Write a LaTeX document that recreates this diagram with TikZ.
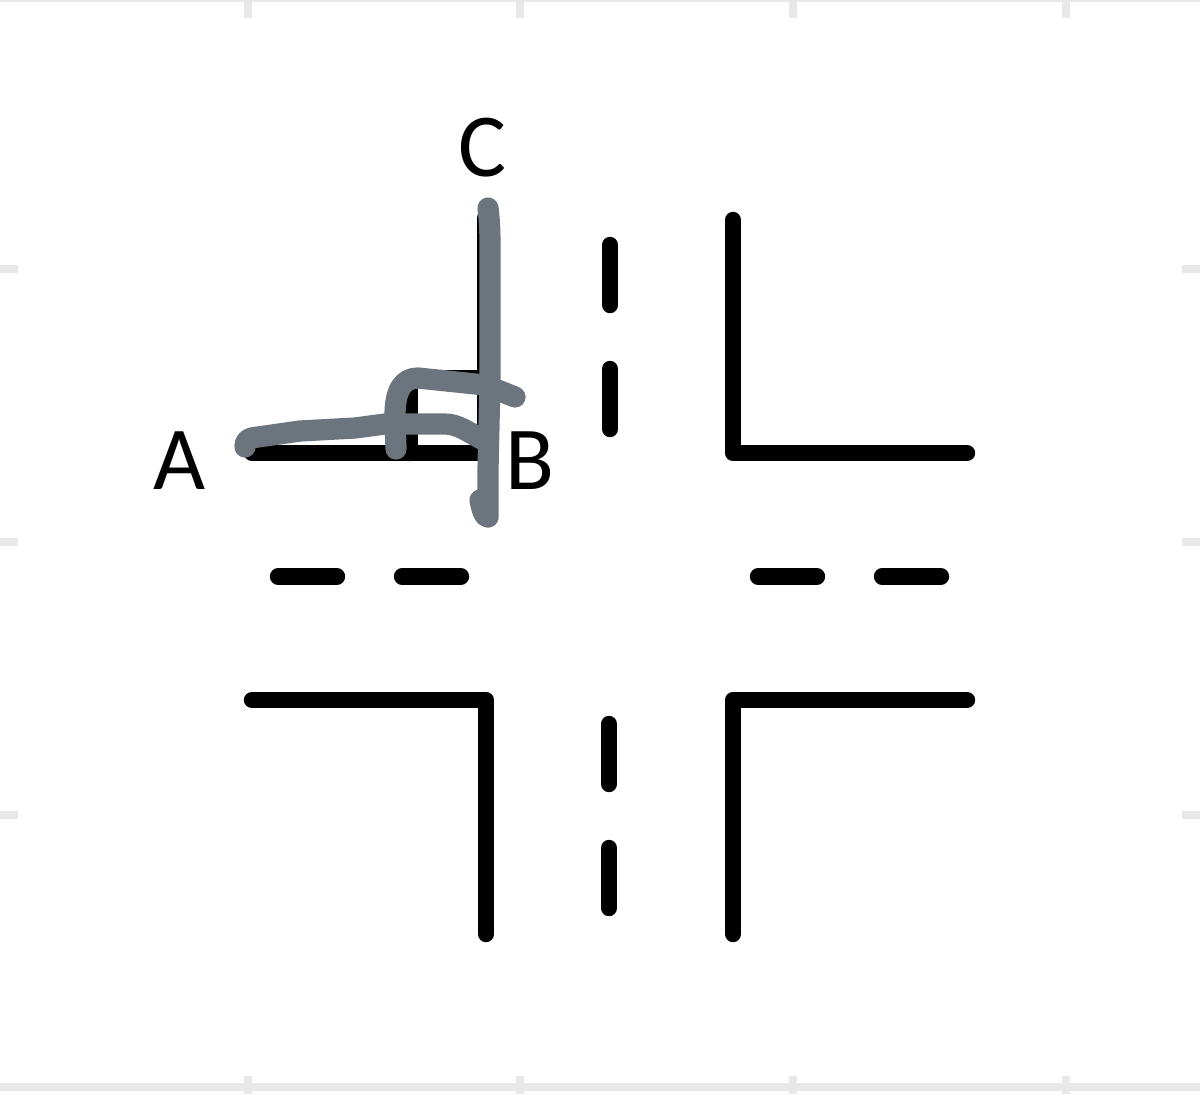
\documentclass[tikz,border=0pt]{standalone}
\usepackage{fontspec}
\setmainfont{Carlito}
\tikzset{
  road/.style={draw=black,line width=8.2pt,line cap=round,line join=round},
  trace/.style={draw=tracegrey,line width=10.6pt,line cap=round,line join=round},
  axisln/.style={draw=axisgrey,line width=3.6pt},
  lbl/.style={font=\fontsize{45}{45}\selectfont,text=black,inner sep=0pt,anchor=center}
}
\definecolor{tracegrey}{HTML}{6C757D}
\definecolor{axisgrey}{HTML}{E8E8E8}
\begin{document}
\begin{tikzpicture}[x=0.5pt,y=-0.5pt]
\useasboundingbox (0,0) rectangle (1200,1094);
\fill[white] (0,0) rectangle (1200,1094);
% frame and ticks
\draw[axisgrey,line width=1pt] (0,0.5) -- (1200,0.5);
\draw[axisln] (0,1087) -- (1200,1087);
\foreach \x in {248,520,793,1066}{
  \draw[axisln] (\x,0) -- (\x,18);
  \draw[axisln] (\x,1076) -- (\x,1094);
}
\foreach \y in {269,542,815}{
  \draw[axisln] (0,\y) -- (18,\y);
  \draw[axisln] (1182,\y) -- (1200,\y);
}
% road corners
\draw[road] (252,453) -- (485,453);
\draw[road] (410,453) -- (410,378) -- (485,378) -- (485,218);
\draw[road] (485,378) -- (485,453);
\draw[road] (733,220) -- (733,453) -- (967,453);
\draw[road] (252,700) -- (486,700) -- (486,934);
\draw[road] (733,934) -- (733,700) -- (967,700);
% centre dashes
\foreach \y in {245,369}{ \draw[road] (610,\y) -- (610,\y+60); }
\foreach \y in {724,848}{ \draw[road] (609,\y) -- (609,\y+60); }
\foreach \x in {278,402}{ \draw[road] (\x,576.5) -- (\x+59,576.5); }
\foreach \x in {758,882}{ \draw[road] (\x,576.5) -- (\x+59,576.5); }
% hand-drawn trace
\draw[trace] (245,447) .. controls (245,440) and (248,438) .. (258,437)
  -- (300,431) -- (355,428) -- (385,424) -- (445,424)
  .. controls (458,424) and (468,432) .. (487,442);
\draw[trace] (396,449) -- (395,415) .. controls (395,390) and (403,378) .. (418,378)
  -- (485,385) -- (515,397);
\draw[trace] (488,208) .. controls (490,225) and (490,235) .. (490,250)
  -- (490,380) -- (488,470) -- (488,517) .. controls (484,517) and (482,510) .. (480,500);
% labels
\node[lbl] (A) at (180,461) {A};
\node[lbl] (B) at (530,461) {B};
\node[lbl] (C) at (482,148) {C};
\end{tikzpicture}
\end{document}
